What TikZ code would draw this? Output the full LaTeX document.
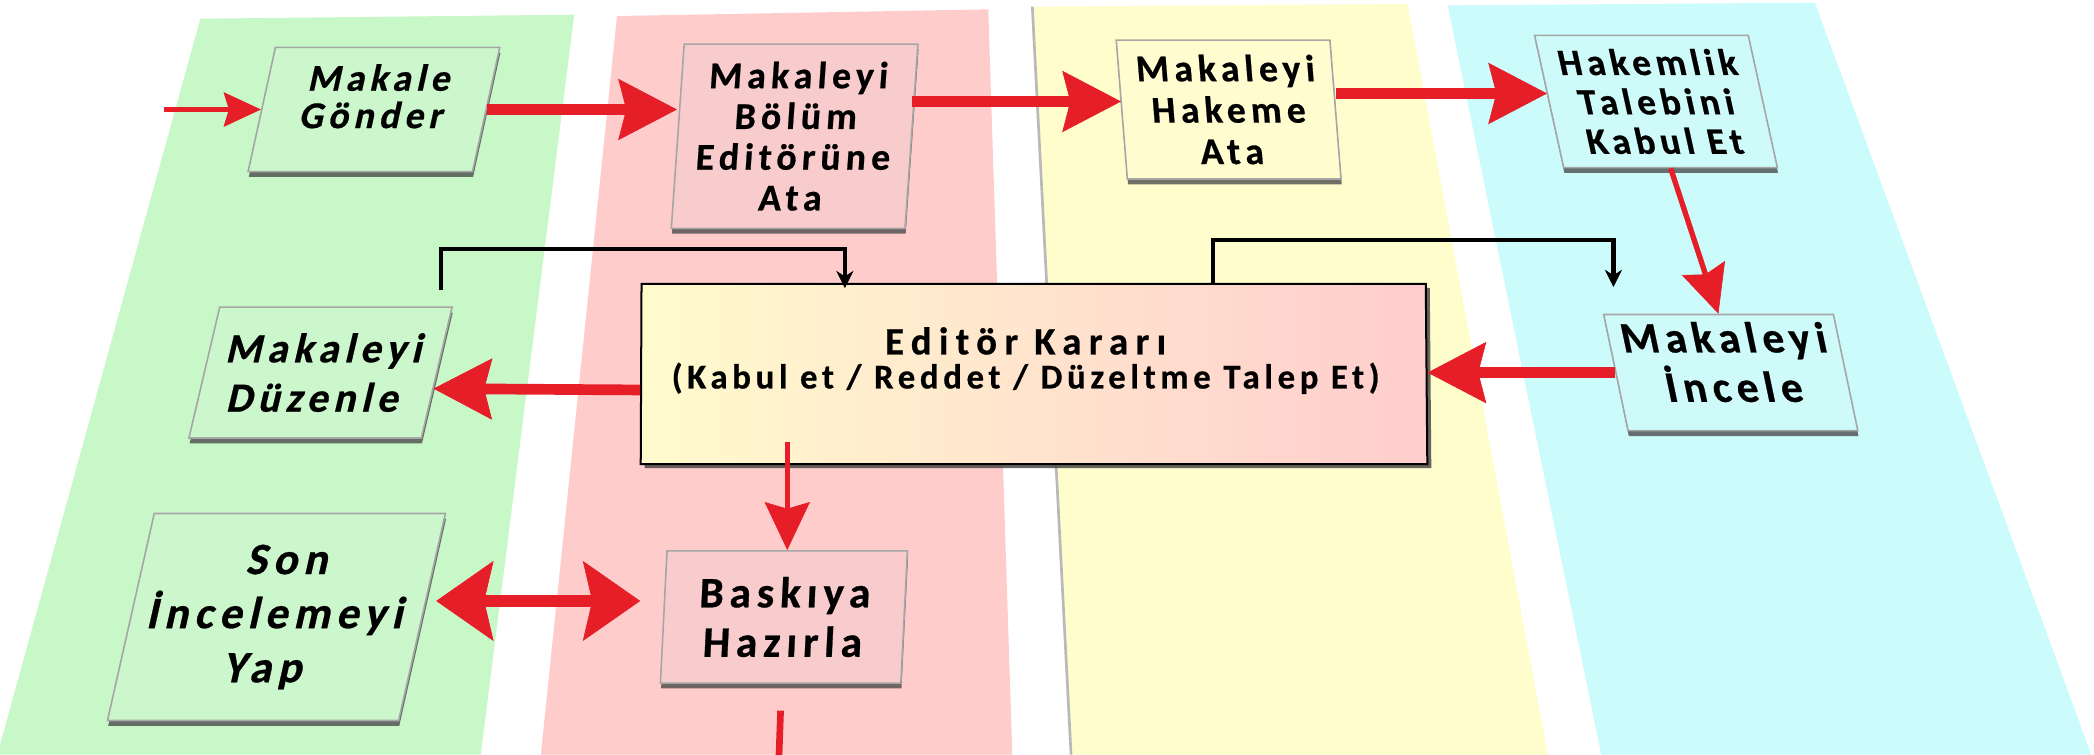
\documentclass[tikz,border=0pt]{standalone}
\usepackage{fontspec}
\newfontfamily\bx{Carlito}[LetterSpace=13.5,FakeBold=0.6]
\newfontfamily\bxwide{Carlito}[LetterSpace=19,FakeBold=0.6]
\usetikzlibrary{arrows.meta,shapes.geometric,shadows,calc}
\definecolor{lgreen}{RGB}{200,248,200}
\definecolor{lpink}{RGB}{255,204,204}
\definecolor{lyellow}{RGB}{255,253,204}
\definecolor{lcyan}{RGB}{204,251,251}
\definecolor{bgreen}{RGB}{204,246,204}
\definecolor{bpink}{RGB}{248,204,204}
\definecolor{byellow}{RGB}{255,252,208}
\definecolor{bcyan}{RGB}{206,250,250}
\definecolor{eyel}{RGB}{255,251,205}
\definecolor{epink}{RGB}{255,205,205}
\definecolor{ared}{RGB}{230,30,40}
\tikzset{
  box/.style={draw=gray!70, line width=1.2pt, align=center, inner sep=0pt,
    drop shadow={shadow xshift=0.5pt, shadow yshift=-4pt, fill=black!70, opacity=0.8}},
  bigarr/.style={draw=ared, line width=8pt, -{Stealth[length=44pt,width=46pt,inset=6pt,line width=0.5pt]}},
  medarr/.style={draw=ared, line width=4pt, -{Stealth[length=36pt,width=34pt,inset=5pt,line width=0.5pt]}},
  thinarr/.style={draw=ared, line width=3.5pt, -{Stealth[length=28pt,width=26pt,inset=4pt,line width=0.5pt]}},
  dblarr/.style={draw=ared, line width=9pt, {Stealth[length=43pt,width=60pt,inset=7pt,line width=0.5pt]}-{Stealth[length=43pt,width=60pt,inset=7pt,line width=0.5pt]}},
  plainred/.style={draw=ared, line width=5pt},
  blk/.style={draw=black, line width=3.5pt, -{Stealth[length=13pt,width=13pt,line width=0.5pt]}},
}
\begin{document}
\begin{tikzpicture}[x=1pt,y=-1pt]
\useasboundingbox (0,0) rectangle (1568,565);
\clip (0,0) rectangle (1568,565);
% lanes
\fill[lgreen] (150,14) -- (430,11) -- (360,565) -- (-2,565) -- cycle;
\fill[lpink] (462,12) -- (740,7) -- (758,565) -- (405,565) -- cycle;
\fill[lyellow] (773,5) -- (1054,3) -- (1159,565) -- (802,565) -- cycle;
\draw[gray!55, line width=2pt] (773,5) -- (802,565);
\fill[lcyan] (1084,4) -- (1359,2) -- (1566,565) -- (1199,565) -- cycle;
% boxes
\node[box, fill=bgreen, xslant=0.22, minimum width=168pt, minimum height=93pt,
  font={\bx\bfseries\fontsize{28.3}{28}\selectfont}] (mg) at (280,82) {Makale\\Gönder\rule[-20pt]{0pt}{0pt}};
\node[box, fill=bpink, xslant=0.07, minimum width=175pt, minimum height=138pt,
  font={\bx\bfseries\fontsize{28.3}{30.5}\selectfont}] (bo) at (595,102) {Makaleyi\\Bölüm\\Editörüne\\Ata};
\node[box, fill=byellow, xslant=-0.08, minimum width=160pt, minimum height=104pt,
  font={\bx\bfseries\fontsize{28.3}{31}\selectfont}] (hk) at (920,82) {Makaleyi\\Hakeme\\Ata};
\node[box, fill=bcyan, xslant=-0.22, minimum width=160pt, minimum height=99pt,
  font={\bx\bfseries\fontsize{27.8}{29.5}\selectfont}] (ht) at (1240,76) {Hakemlik\\Talebini\\Kabul Et};
\node[box, fill=bcyan, xslant=-0.21, minimum width=172pt, minimum height=87pt,
  font={\bx\bfseries\fontsize{32.5}{37}\selectfont}] (in) at (1296,279) {Makaleyi\\İncele\rule[-16pt]{0pt}{0pt}};
\node[box, fill=bgreen, xslant=0.235, minimum width=174pt, minimum height=98pt,
  font={\bx\bfseries\fontsize{31}{37}\selectfont}] (du) at (240,279) {Makaleyi\\Düzenle};
\node[box, fill=bgreen, xslant=0.226, minimum width=218pt, minimum height=155pt,
  font={\bx\bfseries\fontsize{33.6}{40.5}\selectfont}] (so) at (207,462) {Son\\İncelemeyi\\Yap};
\node[box, fill=bpink, xslant=0.05, minimum width=180pt, minimum height=99pt,
  font={\bx\bfseries\fontsize{32.5}{37}\selectfont}] (ba) at (587,462) {Baskıya\\Hazırla};
\node[trapezium, trapezium left angle=84.8, trapezium right angle=80.2, trapezium stretches body,
  minimum width=589pt, minimum height=135pt, draw=black, line width=1.5pt,
  left color=eyel, right color=epink,
  drop shadow={shadow xshift=3pt, shadow yshift=-3pt, fill=black!75, opacity=0.8}] (ed) at (774,280) {};
\node[align=center, inner sep=0pt, font={\bfseries}] (edt) at (768,270)
  {{\bxwide\bfseries\fontsize{29}{30}\selectfont Editör Kararı}\\[5pt]{\bx\bfseries\fontsize{26}{26}\selectfont (Kabul et / Reddet / Düzeltme Talep Et)}};
% red arrows
\coordinate (start) at (123,82);
\draw[thinarr] (start) -- (mg.west);
\draw[bigarr] (mg.east) -- (mg.east -| bo.west);
\draw[bigarr] ($(bo.east |- hk.west)+(0,-6)$) -- ($(hk.west)+(0,-6)$);
\draw[bigarr] ($(hk.east |- ht.west)+(0,-6)$) -- ($(ht.west)+(-1,-6)$);
\draw[medarr] (ht.south) -- (in.north);
\draw[bigarr] (in.west) -- (in.west -| ed.east);
\draw[bigarr] ($(ed.west)+(0,12)$) -- ($(du.east)+(-3,12)$);
\draw[medarr] ($(ba.north |- ed.south)+(0,-17)$) -- (ba.north);
\draw[dblarr, shorten <=10pt, shorten >=17pt] ($(so.east)+(0,-12)$) -- ($(ba.west)+(0,-12)$);
\coordinate (bot) at (583,575);
\draw[plainred] ($(ba.south)+(0,20)$) -- (bot);
% black connectors
\draw[blk] ($(du.north east)+(-9,-12)$) -- ++(0,-31) -| ($(ed.top left corner)+(153,4)$);
\draw[blk] ($(ed.top right corner)+(-160,0)$) -- ++(0,-32) -| ($(in.north west)+(8,-20)$);
\end{tikzpicture}
\end{document}
